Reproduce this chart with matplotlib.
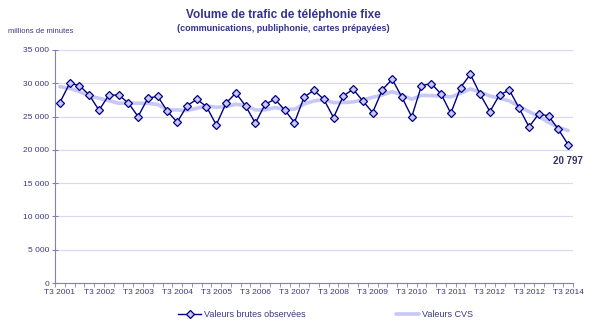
import matplotlib
matplotlib.use("Agg")
import matplotlib.pyplot as plt
import numpy as np

plt.rcParams["font.family"] = ["Liberation Sans", "DejaVu Sans"]

# quarterly series, T3 2001 .. T3 2014 (millions de minutes)
brutes = [27100, 30000, 29650, 28250, 25950, 28200, 28250, 27050, 25000, 27750,
          28050, 25800, 24150, 26600, 27600, 26500, 23750, 27000, 28550, 26600,
          24000, 26850, 27600, 26000, 24100, 27950, 28950, 27600, 24850, 28100,
          29100, 27350, 25600, 29050, 30600, 27900, 24950, 29650, 29950, 28400,
          25500, 29350, 31350, 28350, 25750, 28300, 28950, 26250, 23450, 25400,
          25100, 23100, 20797]
cvs = [29500, 29250, 28750, 28100, 27750, 27400, 27000, 27050, 27000, 27000,
       26800, 26000, 26000, 25900, 26250, 26600, 26400, 26500, 26850, 26650,
       26000, 26000, 26350, 26100, 26100, 26900, 27350, 27550, 27100, 27100,
       27200, 27500, 27900, 28250, 28750, 28250, 27600, 28200, 28150, 28100,
       27950, 28500, 29150, 28650, 28100, 27750, 27350, 26500, 25750, 25000,
       24150, 23350, 22900]
tick_labels = ["T3 2001", "T3 2002", "T3 2003", "T3 2004", "T3 2005", "T3 2006",
               "T3 2007", "T3 2008", "T3 2009", "T3 2010", "T3 2011", "T3 2012",
               "T3 2012", "T3 2014"]
yticks = [0, 5000, 10000, 15000, 20000, 25000, 30000, 35000]

navy = "#000080"
lav = "#c8c8f8"
txt = "#3a3a80"
axc = "#8080c0"

x = np.arange(len(brutes))

fig = plt.figure(figsize=(5.94, 3.24), dpi=100)
ax = fig.add_axes([0.0926, 0.1265, 0.872, 0.7192])

ax.grid(axis="y", color="#d8d8f4", linewidth=0.8)
ax.set_axisbelow(True)
ax.plot(x, cvs, color=lav, linewidth=2.6, solid_capstyle="round",
        label="Valeurs CVS", zorder=2)
ax.plot(x, brutes, color=navy, linewidth=1.0, marker="D", markersize=3.8,
        markerfacecolor="#c8c8ff", markeredgecolor=navy, markeredgewidth=0.9,
        label="Valeurs brutes observées", zorder=3)

ax.set_xlim(-0.5, len(brutes) - 0.5)
ax.set_ylim(0, 35000)
ax.set_yticks(yticks)
ax.set_yticklabels([f"{v:,}".replace(",", " ") for v in yticks])
ax.set_xticks(x[::4])
ax.set_xticklabels(tick_labels)
ax.set_xticks(np.arange(-0.5, len(brutes), 1), minor=True)
ax.tick_params(axis="x", which="major", length=0, pad=4)
ax.tick_params(axis="x", which="minor", length=3, direction="out", color=axc)
ax.tick_params(axis="y", length=4, direction="inout", color=axc, pad=2)
ax.tick_params(labelsize=6, labelcolor=txt)

for s in ["top", "right"]:
    ax.spines[s].set_visible(False)
for s in ["left", "bottom"]:
    ax.spines[s].set_color(axc)

ax.annotate("20 797", (x[-1], brutes[-1]), xytext=(0, -12),
            textcoords="offset points", ha="center", va="center",
            fontsize=7, fontweight="bold", color="#333366")

fig.text(0.477, 0.953, "Volume de trafic de téléphonie fixe", ha="center",
         va="center", fontsize=8.5, fontweight="bold", color="#333388")
fig.text(0.477, 0.912, "(communications, publiphonie, cartes prépayées)",
         ha="center", va="center", fontsize=6.5, fontweight="bold", color="#333388")
fig.text(0.013, 0.904, "millions de minutes", ha="left", va="center",
         fontsize=5.5, color=txt)

h, l = ax.get_legend_handles_labels()
leg = fig.legend([h[1], h[0]], [l[1], l[0]], loc="center", ncol=2,
                 bbox_to_anchor=(0.548, 0.03), frameon=False, fontsize=6.5,
                 handlelength=2.6, columnspacing=10, handletextpad=0.3)
for t in leg.get_texts():
    t.set_color(txt)

fig.savefig("out.png", dpi=100)
